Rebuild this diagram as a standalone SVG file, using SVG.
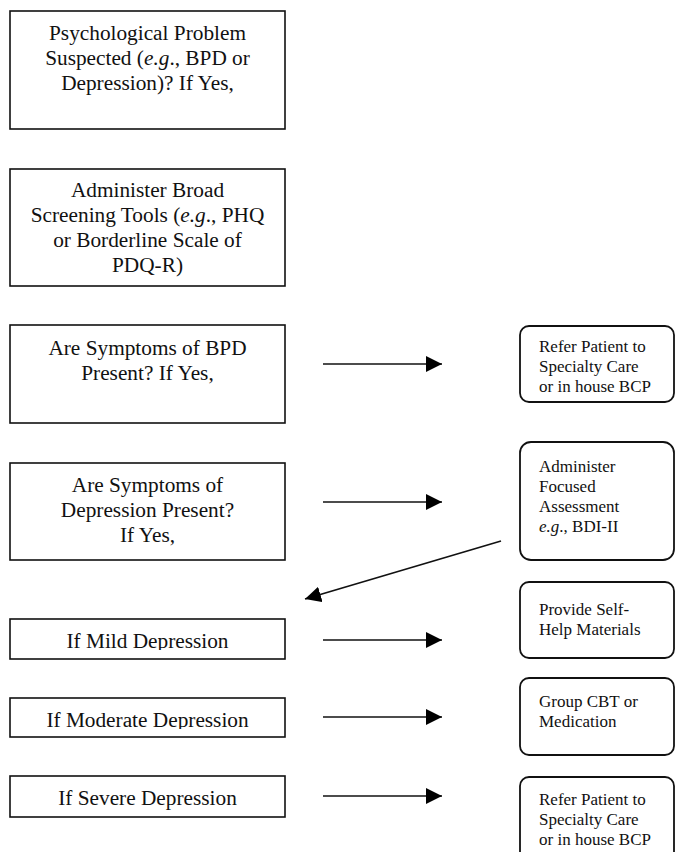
<svg xmlns="http://www.w3.org/2000/svg" width="675" height="852" viewBox="0 0 675 852">
<style>
.box{fill:#fff;stroke:#111;stroke-width:1.6}
.rbox{fill:#fff;stroke:#111;stroke-width:1.8}
.t{font-family:"Liberation Serif","Times New Roman",serif;font-size:21.3px;fill:#111;text-anchor:middle}
.r{font-family:"Liberation Serif","Times New Roman",serif;font-size:17px;fill:#111}
.c{stroke:#111;stroke-width:1.7;fill:none;marker-end:url(#ah)}
</style>
<defs>
<marker id="ah" markerUnits="userSpaceOnUse" markerWidth="18" markerHeight="16" refX="16" refY="8" orient="auto">
<path d="M0,0 L16,8 L0,16 Z" fill="#000"/>
</marker>
<clipPath id="c5"><rect x="0" y="600" width="300" height="50"/></clipPath>
<clipPath id="c6"><rect x="0" y="690" width="300" height="39"/></clipPath>
</defs>
<rect width="675" height="852" fill="#fff"/>
<g id="n1"><rect class="box" x="10" y="11" width="275" height="118"/>
<text class="t" x="147.5" y="40">Psychological Problem</text>
<text class="t" x="147.5" y="65">Suspected (<tspan font-style="italic">e.g</tspan>., BPD or</text>
<text class="t" x="147.5" y="90">Depression)? If Yes,</text></g>
<g id="n2"><rect class="box" x="10" y="169" width="275" height="117"/>
<text class="t" x="147.5" y="197">Administer Broad</text>
<text class="t" x="147.5" y="222">Screening Tools (<tspan font-style="italic">e.g</tspan>., PHQ</text>
<text class="t" x="147.5" y="247">or Borderline Scale of</text>
<text class="t" x="147.5" y="272">PDQ-R)</text></g>
<g id="n3"><rect class="box" x="10" y="325" width="275" height="98"/>
<text class="t" x="147.5" y="355">Are Symptoms of BPD</text>
<text class="t" x="147.5" y="380">Present? If Yes,</text></g>
<g id="n4"><rect class="box" x="10" y="463" width="275" height="97"/>
<text class="t" x="147.5" y="492">Are Symptoms of</text>
<text class="t" x="147.5" y="517">Depression Present?</text>
<text class="t" x="147.5" y="542">If Yes,</text></g>
<g id="n5"><rect class="box" x="10" y="619" width="275" height="40"/>
<text class="t" x="147.5" y="648" clip-path="url(#c5)">If Mild Depression</text></g>
<g id="n6"><rect class="box" x="10" y="698" width="275" height="39"/>
<text class="t" x="147.5" y="727" clip-path="url(#c6)">If Moderate Depression</text></g>
<g id="n7"><rect class="box" x="10" y="776" width="275" height="41"/>
<text class="t" x="147.5" y="805">If Severe Depression</text></g>
<g id="r1"><rect class="rbox" x="520" y="326" width="154" height="76" rx="9"/>
<text class="r" x="539" y="352">Refer Patient to</text>
<text class="r" x="539" y="372">Specialty Care</text>
<text class="r" x="539" y="392">or in house BCP</text></g>
<g id="r2"><rect class="rbox" x="520" y="442" width="154" height="118" rx="11"/>
<text class="r" x="539" y="472">Administer</text>
<text class="r" x="539" y="492">Focused</text>
<text class="r" x="539" y="512">Assessment</text>
<text class="r" x="539" y="532"><tspan font-style="italic">e.g</tspan>., BDI-II</text></g>
<g id="r3"><rect class="rbox" x="520" y="582" width="154" height="76" rx="9"/>
<text class="r" x="539" y="615">Provide Self-</text>
<text class="r" x="539" y="635">Help Materials</text></g>
<g id="r4"><rect class="rbox" x="520" y="678" width="154" height="77" rx="9"/>
<text class="r" x="539" y="707">Group CBT or</text>
<text class="r" x="539" y="727">Medication</text></g>
<g id="r5"><rect class="rbox" x="520" y="777" width="154" height="90" rx="9"/>
<text class="r" x="539" y="805">Refer Patient to</text>
<text class="r" x="539" y="825">Specialty Care</text>
<text class="r" x="539" y="845">or in house BCP</text></g>
<g id="connectors">
<line class="c" x1="323" y1="364" x2="442" y2="364"/>
<line class="c" x1="323" y1="502" x2="442" y2="502"/>
<line class="c" x1="501" y1="541" x2="305" y2="599"/>
<line class="c" x1="323" y1="640" x2="442" y2="640"/>
<line class="c" x1="323" y1="717" x2="442" y2="717"/>
<line class="c" x1="323" y1="796" x2="442" y2="796"/>
</g>
</svg>
